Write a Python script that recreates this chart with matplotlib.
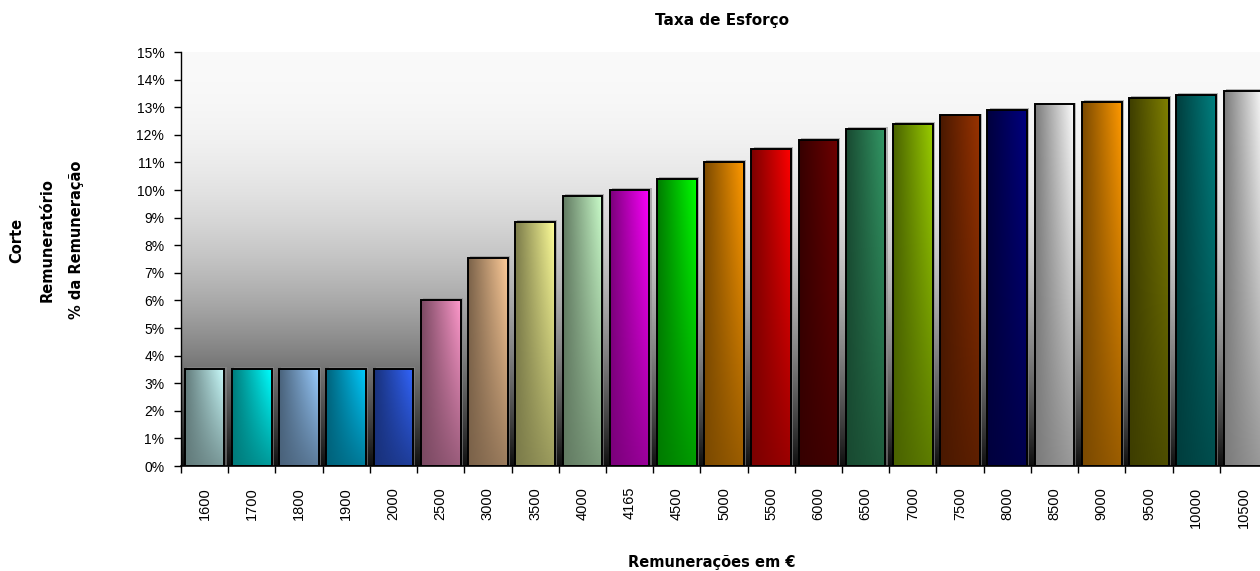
import numpy as np
import matplotlib
matplotlib.use("Agg")
import matplotlib.pyplot as plt
from matplotlib.patches import Rectangle
from matplotlib.colors import to_rgb

# remuneracoes (euros) e corte em % da remuneracao
remuneracoes = ['1600', '1700', '1800', '1900', '2000', '2500', '3000', '3500',
                '4000', '4165', '4500', '5000', '5500', '6000', '6500', '7000',
                '7500', '8000', '8500', '9000', '9500', '10000', '10500']
corte = [3.5, 3.5, 3.5, 3.5, 3.5, 6.0, 7.55, 8.85,
         9.8, 10.0, 10.4, 11.0, 11.5, 11.8, 12.2, 12.4,
         12.7, 12.9, 13.1, 13.2, 13.35, 13.45, 13.6]
cores = ['#CCFFFF', '#00FFFF', '#99CCFF', '#00CCFF', '#3366FF', '#FF99CC',
         '#FFCC99', '#FFFF99', '#CCFFCC', '#FF00FF', '#00FF00', '#FF9900',
         '#FF0000', '#700000', '#339966', '#99CC00', '#993300', '#000080',
         '#FFFFFF', '#FF9900', '#808000', '#008080', '#FFFFFF']
yticks = list(range(0, 16))

W = 0.84
n = len(corte)
YMAX = 15

fig = plt.figure(figsize=(12.6, 5.71), dpi=100)
ax = fig.add_axes([181/1260, 105/571, 1086/1260, 414/571])

# fundo em degrade: branco em cima, preto em baixo
fy = np.linspace(0, 1, 256)[:, None]
v = 0.06 + 0.92 * (1 - (1 - fy) ** 2.1)
bg = np.dstack([v, v, v]) * np.ones((1, 2, 1))
ax.imshow(bg, extent=[-0.5, n - 0.5, 0, YMAX], origin='lower',
          aspect='auto', zorder=0, interpolation='bilinear')

# barras com degrade (escuro a esquerda/em baixo, claro em cima a direita)
gx = np.linspace(0, 1, 64)[None, :]
gy = np.linspace(0, 1, 128)[:, None]
t = gx * (0.25 + 0.75 * gy)
fator = 0.48 + 0.52 * t
for i, (h, c) in enumerate(zip(corte, cores)):
    x0 = i - W / 2
    sombra = Rectangle((x0 + 0.045, 0), W, h + 0.07, facecolor='#8a8a8a',
                       edgecolor='none', alpha=0.6, zorder=1)
    ax.add_patch(sombra)
    rect = Rectangle((x0, 0), W, h, facecolor='none', edgecolor='black',
                     linewidth=1.4, zorder=3)
    ax.add_patch(rect)
    img = fator[:, :, None] * np.array(to_rgb(c))[None, None, :]
    im = ax.imshow(img, extent=[x0, x0 + W, 0, h], origin='lower',
                   aspect='auto', zorder=2, interpolation='bilinear')
    im.set_clip_path(rect)

ax.set_xlim(-0.5, n - 0.5)
ax.set_ylim(0, YMAX)

ax.set_yticks(yticks)
ax.set_yticklabels([f'{v}%' for v in yticks], fontsize=10,
                   fontfamily='Liberation Sans')
ax.set_xticks(range(n))
ax.set_xticklabels(remuneracoes, rotation=90, fontsize=10.5,
                   fontfamily='Liberation Sans')
ax.set_xticks(np.arange(-0.5, n, 1), minor=True)
ax.tick_params(axis='x', which='major', length=0, pad=15)
ax.tick_params(axis='x', which='minor', length=5, width=1, direction='out')
ax.tick_params(axis='y', length=5, width=1, direction='out', pad=7)

for s in ['top', 'right']:
    ax.spines[s].set_visible(False)
ax.spines['left'].set_linewidth(1.0)
ax.spines['bottom'].set_linewidth(1.2)
ax.spines['left'].set_zorder(4)
ax.spines['bottom'].set_zorder(4)

fig.text(722/1260, 1 - 21/571, 'Taxa de Esforço', ha='center', va='center',
         fontsize=11, fontweight='bold', fontfamily='DejaVu Sans')
fig.text(712/1260, 1 - 563/571, 'Remunerações em €', ha='center',
         va='center', fontsize=10.5, fontweight='bold',
         fontfamily='DejaVu Sans')
for xp, txt in [(17, 'Corte'), (47, 'Remuneratório'),
                (77, '% da Remuneração')]:
    fig.text(xp/1260, 1 - 240/571, txt, rotation=90, ha='center',
             va='center', fontsize=10.5, fontweight='bold',
             fontfamily='DejaVu Sans')

fig.savefig('out.png', dpi=100)
